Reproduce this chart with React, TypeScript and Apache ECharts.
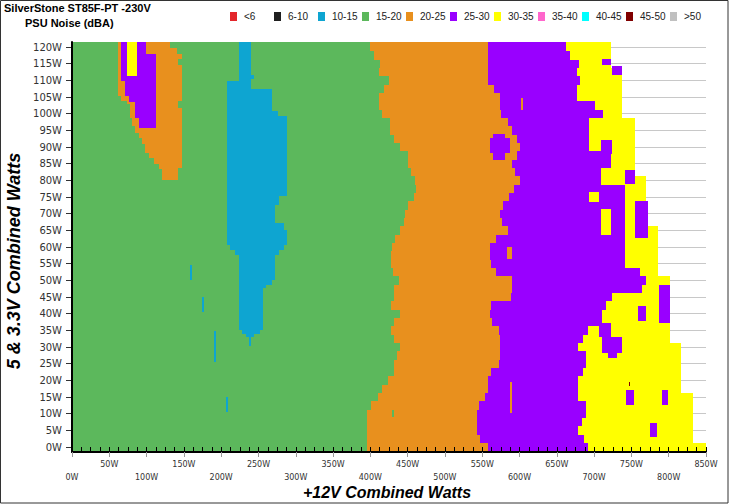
import React, { useEffect, useRef } from "react";
import * as echarts from "echarts";

// ---- legend / classes ----
const classLabels = ["<6", "6-10", "10-15", "15-20", "20-25", "25-30", "30-35", "35-40", "40-45", "45-50", ">50"];
const classColors = ["#e3262b", "#1f1f1f", "#0ea5d1", "#5cb85c", "#e8901e", "#9900ff", "#ffff00", "#ff66cc", "#00ffff", "#800000", "#c0c0c0"];

// ---- rows: 5 & 3.3V load (W), bottom to top ----
const rowWatts = [0, 2.5, 5, 7.5, 10, 12.5, 15, 17.5, 20, 22.5, 25, 27.5, 30, 32.5, 35, 37.5, 40, 42.5, 45, 47.5, 50, 52.5, 55, 57.5, 60, 62.5, 65, 67.5, 70, 72.5, 75, 77.5, 80, 82.5, 85, 87.5, 90, 92.5, 95, 97.5, 100, 102.5, 105, 107.5, 110, 112.5, 115, 117.5, 120];
// +12V load (W) where each noise band ends on that row
const greenEnd = [396, 396, 396, 396, 396, 401, 410, 416, 424, 432, 432, 436, 440, 432, 428, 432, 440, 428, 432, 432, 439, 431, 428, 428, 429, 433, 440, 445, 447, 451, 459, 461, 460, 455, 451, 451, 440, 432, 427, 427, 416, 412, 412, 418, 425, 412, 413, 405, 400];
const orangeEnd = [558, 547, 543, 543, 543, 546, 554, 558, 558, 562, 572, 574, 574, 574, 572, 563, 561, 562, 588, 590, 590, 568, 562, 561, 561, 568, 585, 577, 574, 578, 586, 592, 601, 594, 590, 596, 601, 596, 590, 585, 575, 574, 574, 566, 558, 558, 558, 558, 558];
const purpleEnd = [692, 686, 679, 684, 689, 689, 679, 679, 679, 685, 689, 689, 679, 685, 692, 711, 711, 716, 724, 764, 770, 762, 742, 742, 742, 742, 742, 742, 742, 742, 742, 742, 709, 709, 722, 722, 693, 693, 693, 693, 712, 701, 677, 677, 681, 677, 680, 668, 662];
const loadEnd = [850, 833, 833, 833, 833, 833, 833, 817, 817, 817, 817, 817, 817, 802, 802, 802, 802, 802, 802, 802, 802, 786, 786, 786, 786, 786, 786, 770, 770, 770, 770, 770, 770, 755, 755, 755, 755, 755, 755, 755, 738, 738, 738, 738, 738, 738, 722, 722, 722];

// ---- patches drawn over the bands: [class, x0 W, x1 W, y0 W, y1 W] ----
const leftIsland = [
  [4, 62, 132, 119.8, 121.6], [4, 62, 141, 117.8, 119.8], [4, 62, 147, 105.4, 117.8], [4, 66, 147, 103.8, 105.4],
  [4, 74, 147, 102.8, 103.8], [4, 78, 147, 98.8, 102.8], [4, 80, 147, 96.3, 98.8], [4, 84, 147, 94.3, 96.3],
  [4, 89.5, 147, 92.8, 94.3], [4, 94, 147, 90.8, 92.8], [4, 98.5, 147, 88.3, 90.8], [4, 103, 147, 86.8, 88.3],
  [4, 109.6, 147, 84.8, 86.8], [4, 116, 147, 83.8, 84.8], [4, 116, 142, 83.3, 83.8], [4, 121, 142, 80, 83.3],
  [3, 142, 147, 114.5, 116.5], [3, 142, 147, 101.8, 103.8],
  [5, 66.3, 99.4, 117.8, 121.6], [5, 66.3, 112, 109.8, 117.8], [5, 70.7, 112, 105.4, 109.8], [5, 76, 112, 103.4, 105.4],
  [5, 85, 112, 98.8, 103.4], [5, 89.5, 112, 95.8, 98.8],
  [6, 73.9, 87.3, 111.3, 121.6],
];
const blueBand = [
  [2, 223.4, 240.5, 109.8, 121.6], [2, 240.5, 244, 110.5, 111.5], [2, 208, 240.5, 107.3, 109.8], [2, 208, 268.2, 100.8, 107.3],
  [2, 208, 276.2, 99.3, 100.8], [2, 208, 288.3, 75.2, 99.3], [2, 208, 277, 72.7, 75.2], [2, 208, 272.6, 67.2, 72.7],
  [2, 208, 283.7, 65.2, 67.2], [2, 208, 288.3, 60.7, 65.2], [2, 211.4, 283.7, 59.2, 60.7], [2, 219, 277, 57.7, 59.2],
  [2, 223.4, 272.6, 50.2, 57.7], [2, 223.4, 268.2, 48.7, 50.2], [2, 223.4, 260.6, 47.7, 48.7], [2, 223.4, 256.1, 35.2, 47.7],
  [2, 228, 252.5, 34, 35.2], [2, 233.8, 244.5, 32.9, 34], [2, 237.8, 240, 30.4, 32.9],
  [2, 158.7, 161.4, 50.2, 54.7], [2, 174.8, 177.5, 40.4, 44.9], [2, 190.5, 193.6, 25.4, 34.9], [2, 206.6, 209.6, 10.4, 14.9],
];
const rightPatches = [
  [5, 560, 587, 88.3, 92.8], [5, 565, 581, 86.2, 94],
  [4, 602, 605, 101.2, 104.8], [4, 583, 590, 56.5, 60], [4, 587, 590, 10.3, 19.6],
  [3, 429, 432, 9, 11],
  [5, 711, 722, 114.6, 116.5], [5, 724, 738, 111.7, 114.4], [5, 709, 724, 88, 92.2], [5, 742, 755, 78.8, 83.2],
  [6, 693, 707, 73.6, 76.6], [6, 709, 722, 63.7, 71.5], [5, 755, 772, 62.8, 73.9],
  [5, 787, 802, 37.3, 48.7], [5, 759, 770, 37.9, 42.4],
  [5, 707, 722, 33.1, 37.3], [5, 711, 737, 28.3, 33.1], [5, 719, 731, 26.8, 28.3],
  [5, 743, 754, 12.7, 17.2], [5, 791, 799, 12.7, 17.2], [5, 775, 784, 3.1, 7.3],
  [9, 746.5, 748, 18.2, 19.6],
];

const Y_MIN = -1.5;
const Y_MAX = 121.5;
const HALF_ROW = 1.25;

function buildCells() {
  const cells: number[][] = [];
  rowWatts.forEach((w, k) => {
    const lo = k === 0 ? Y_MIN : w - HALF_ROW;
    const hi = k === rowWatts.length - 1 ? Y_MAX : w + HALF_ROW;
    cells.push([0, greenEnd[k], lo, hi, 3]);
    cells.push([greenEnd[k], orangeEnd[k], lo, hi, 4]);
    cells.push([orangeEnd[k], purpleEnd[k], lo, hi, 5]);
    cells.push([purpleEnd[k], loadEnd[k], lo, hi, 6]);
  });
  [...leftIsland, ...blueBand, ...rightPatches].forEach((p) => {
    cells.push([p[1], p[2], p[3], p[4], p[0]]);
  });
  return cells;
}

const FONT = '"Liberation Sans", Arial, sans-serif';

export default function App() {
  const ref = useRef<HTMLDivElement>(null);
  useEffect(() => {
    if (!ref.current) return;
    const chart = echarts.init(ref.current, null, { renderer: "svg" });
    const legendGraphics: any[] = [];
    classLabels.forEach((lab, i) => {
      const x = 230 + 44 * i;
      legendGraphics.push({ type: "rect", shape: { x, y: 12, width: 7, height: 9 }, style: { fill: classColors[i] } });
      legendGraphics.push({
        type: "text", x: x + 14, y: 16.5,
        style: { text: lab, font: `10px ${FONT}`, fill: "#222", align: "left", verticalAlign: "middle", textAlign: "left", textVerticalAlign: "middle" },
      });
    });
    chart.setOption({
      animation: false,
      backgroundColor: "#ffffff",
      grid: [
        { left: 72, right: 23, top: 42, bottom: 52 },
        { left: 72, right: 23, top: 47, bottom: 57 },
      ],
      xAxis: [
        {
          gridIndex: 0, type: "value", min: 0, max: 850, interval: 12.5, z: 4, position: "bottom",
          axisLine: { show: false },
          axisTick: { show: true, inside: false, length: 5, lineStyle: { color: "#000" } },
          splitLine: { show: false },
          axisLabel: { show: false },
        },
        { gridIndex: 1, type: "value", min: 0, max: 850, show: false },
        {
          gridIndex: 0, type: "value", min: 0, max: 850, interval: 50, z: 5, position: "bottom",
          axisLine: { show: true, lineStyle: { color: "#000", width: 2 } },
          axisTick: { show: true, inside: false, length: 5, lineStyle: { color: "#999" } },
          splitLine: { show: false },
          axisLabel: {
            margin: 6, fontFamily: "DejaVu Sans", fontSize: 8, color: "#333", lineHeight: 13,
            formatter: (v: number) => (v % 100 === 0 ? `\n${v}W` : `${v}W`),
          },
        },
      ],
      yAxis: [
        {
          gridIndex: 0, type: "value", min: Y_MIN, max: Y_MAX, z: 5,
          axisLine: { show: true, lineStyle: { color: "#000", width: 2 } },
          axisTick: { show: false }, axisLabel: { show: false }, splitLine: { show: false },
        },
        {
          gridIndex: 1, type: "value", min: 0, max: 120, interval: 5,
          axisLine: { show: false },
          axisTick: { show: true, inside: false, length: 6, lineStyle: { color: "#333" } },
          axisLabel: { margin: 10, fontFamily: "DejaVu Sans", fontSize: 10, color: "#333", formatter: (v: number) => `${v}W` },
          splitLine: { show: true, lineStyle: { color: "#c8c8c8", width: 1 } },
        },
      ],
      series: [
        {
          type: "custom",
          xAxisIndex: 0, yAxisIndex: 0,
          clip: true,
          encode: { x: [0, 1], y: [2, 3] },
          data: buildCells(),
          renderItem: (_p: any, api: any) => {
            const a = api.coord([api.value(0), api.value(3)]);
            const b = api.coord([api.value(1), api.value(2)]);
            const l = Math.round(a[0]), t = Math.round(a[1]);
            const r = Math.round(b[0]), bt = Math.round(b[1]);
            return {
              type: "rect",
              shape: { x: l, y: t, width: Math.max(1, r - l), height: Math.max(1, bt - t) },
              style: { fill: classColors[api.value(4)] },
            };
          },
        },
      ],
      graphic: [
        { type: "rect", shape: { x: 0.5, y: 0.5, width: 727.5, height: 502.5 }, style: { fill: "none", stroke: "#333", lineWidth: 1 }, silent: true },
        { type: "text", x: 4, y: 7.5, style: { text: "SilverStone ST85F-PT -230V", font: `bold 11px ${FONT}`, fill: "#000", align: "left", verticalAlign: "middle", textAlign: "left", textVerticalAlign: "middle" } },
        { type: "text", x: 25, y: 23, style: { text: "PSU Noise (dBA)", font: `bold 11px ${FONT}`, fill: "#000", align: "left", verticalAlign: "middle", textAlign: "left", textVerticalAlign: "middle" } },
        ...legendGraphics,
        { type: "text", x: 387, y: 492, style: { text: "+12V Combined Watts", font: `italic bold 16px ${FONT}`, fill: "#000", align: "center", verticalAlign: "middle", textAlign: "center", textVerticalAlign: "middle" } },
        { type: "text", x: 14, y: 261, rotation: Math.PI / 2, style: { text: "5 & 3.3V Combined Watts", font: `italic bold 18px ${FONT}`, fill: "#000", align: "center", verticalAlign: "middle", textAlign: "center", textVerticalAlign: "middle" } },
      ],
    });
    return () => chart.dispose();
  }, []);
  return <div ref={ref} style={{ position: "fixed", left: 0, top: 0, width: 729, height: 504, background: "#fff" }} />;
}
